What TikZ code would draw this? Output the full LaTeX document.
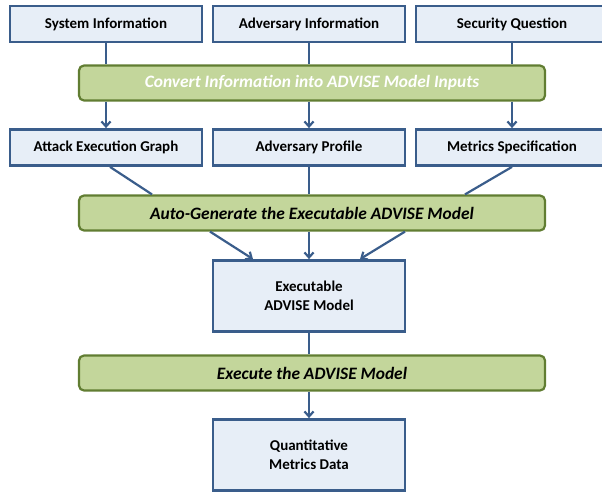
\documentclass[tikz,border=0pt]{standalone}
\usepackage{fontspec}
\setmainfont{Carlito}
\usetikzlibrary{arrows.meta,calc}
\definecolor{boxfill}{HTML}{E7EEF7}
\definecolor{boxline}{HTML}{3A5D8B}
\definecolor{stepfill}{HTML}{C3D69B}
\definecolor{stepline}{HTML}{617D32}
\definecolor{flow}{HTML}{3A5D8B}
\tikzset{
  infobox/.style={draw=boxline, fill=boxfill, line width=2.8pt, minimum width=192pt,
    minimum height=36pt, inner sep=0pt, font=\fontsize{15}{18.5}\selectfont\bfseries, align=center},
  bigbox/.style={infobox, minimum height=71pt},
  stepbox/.style={draw=stepline, fill=stepfill, line width=2.2pt, rounded corners=5pt,
    minimum width=466pt, minimum height=35pt, inner sep=0pt},
  steplabel/.style={font=\fontsize{17.4}{20}\selectfont\bfseries\itshape},
  link/.style={draw=flow, line width=2.2pt},
  arrow/.style={link, -{Straight Barb[length=5pt,width=9pt,line width=2.2pt]}}
}
\begin{document}
\begin{tikzpicture}[x=1pt,y=-1pt]
\useasboundingbox (0,0) rectangle (602,491);
% inputs
\node[infobox] (sys) at (106,24) {System Information};
\node[infobox] (adv) at (309,24) {Adversary Information};
\node[infobox] (sec) at (512,24) {Security Question};
% ADVISE inputs
\node[infobox] (aeg) at (106,147.5) {Attack Execution Graph};
\node[infobox] (prof) at (309,147.5) {Adversary Profile};
\node[infobox] (met) at (512,147.5) {Metrics Specification};
% model and results
\node[bigbox] (exe) at (309,296) {Executable\\ADVISE Model};
\node[bigbox] (qmd) at (309,455) {Quantitative\\Metrics Data};
% steps
\node[stepbox] (conv) at (312,83) {};
\node[stepbox] (gen) at (312,213) {};
\node[stepbox] (run) at (312,373) {};
% connectors
\draw[link] (sys.south) -- (sys.south |- conv.north);
\draw[link] (adv.south) -- (adv.south |- conv.north);
\draw[link] (sec.south) -- (sec.south |- conv.north);
\draw[arrow] (aeg.north |- conv.south) -- (aeg.north);
\draw[arrow] (prof.north |- conv.south) -- (prof.north);
\draw[arrow] (met.north |- conv.south) -- (met.north);
\draw[link] ([xshift=4pt]aeg.south) -- ([xshift=-160pt]gen.north);
\draw[link] (prof.south) -- (prof.south |- gen.north);
\draw[link] (met.south) -- ([xshift=153pt]gen.north);
\draw[arrow] ([xshift=-102pt]gen.south) -- ([xshift=-56pt]exe.north);
\draw[arrow] (exe.north |- gen.south) -- (exe.north);
\draw[arrow] ([xshift=93pt]gen.south) -- ([xshift=51pt]exe.north);
\draw[link] (exe.south) -- (exe.south |- run.north);
\draw[arrow] (qmd.north |- run.south) -- (qmd.north);
% step labels
\node[steplabel, text=white] at (conv.center) {Convert Information into ADVISE Model Inputs};
\node[steplabel] at (gen.center) {Auto-Generate the Executable ADVISE Model};
\node[steplabel] at (run.center) {Execute the ADVISE Model};
\end{tikzpicture}
\end{document}
